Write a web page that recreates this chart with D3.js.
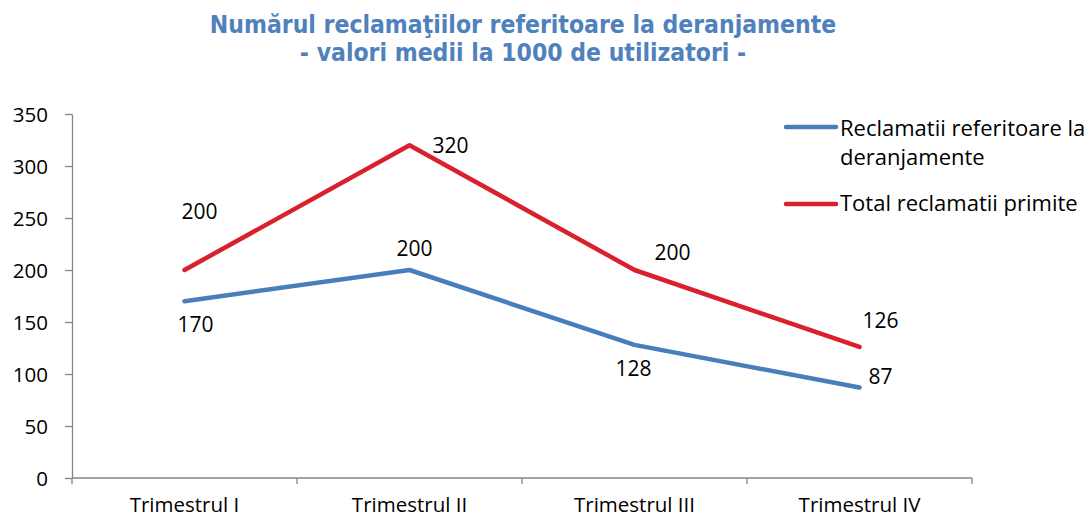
<!DOCTYPE html>
<meta charset="utf-8">
<style>
body { margin: 0; background: #fff; }
text { font-family: "Open Sans", sans-serif; fill: #000; }
.title { font-family: "DejaVu Sans Condensed", "DejaVu Sans", sans-serif; font-weight: bold; fill: #4f81bd; font-size: 24.5px; }
.axis path, .axis line { stroke: #868686; stroke-width: 1.3px; }
.axis text { font-size: 20.5px; fill: #000; font-family: "Open Sans", sans-serif; }
</style>
<svg width="1089" height="518"></svg>
<script src="https://d3js.org/d3.v7.min.js"></script>
<script>

var categories = ["Trimestrul I", "Trimestrul II", "Trimestrul III", "Trimestrul IV"];
var deranjamente = [170, 200, 128, 87];
var totalPrimite = [200, 320, 200, 126];
var yTicks = [0, 50, 100, 150, 200, 250, 300, 350];
var seriesNames = ["Reclamatii referitoare la deranjamente", "Total reclamatii primite"];
var titleLines = ["Numărul reclamaţiilor referitoare la deranjamente", "- valori medii la 1000 de utilizatori -"];

// label nudges, px (as placed by hand in the original)
var blueOffsets = [[11, 23], [5, -21], [-1, 24], [21, -11]];
var redOffsets = [[15, -58], [41, 0], [38, -17], [21, -26]];

var svg = d3.select("svg");

var x = d3.scaleBand().domain(categories).range([72, 972]);
var y = d3.scaleLinear().domain([0, 350]).range([478, 114]);

svg.selectAll(".title")
    .data(titleLines)
  .enter().append("text")
    .attr("class", "title")
    .attr("x", 523)
    .attr("y", function(d, i) { return 33 + i * 28; })
    .attr("text-anchor", "middle")
    .text(function(d) { return d; });

// Y axis
svg.append("g")
    .attr("class", "axis")
    .attr("transform", "translate(72,0)")
    .call(d3.axisLeft(y).tickValues(yTicks).tickSize(7).tickPadding(17).tickSizeOuter(0))
    .selectAll("text").attr("dy", "0.35em");

// X axis, ticks at category boundaries
var xg = svg.append("g")
    .attr("class", "axis")
    .attr("transform", "translate(0,478)");
xg.append("path").attr("d", "M72,0H972");
xg.selectAll(".tk")
    .data(categories.concat(["end"]))
  .enter().append("line")
    .attr("x1", function(d, i) { return i < categories.length ? x(d) : x.range()[1]; })
    .attr("x2", function(d, i) { return i < categories.length ? x(d) : x.range()[1]; })
    .attr("y1", 0).attr("y2", 6);
xg.selectAll(".lbl")
    .data(categories)
  .enter().append("text")
    .attr("x", function(d) { return x(d) + x.bandwidth() / 2; })
    .attr("y", 34)
    .attr("text-anchor", "middle")
    .text(function(d) { return d; });

var line = d3.line()
    .x(function(d, i) { return x(categories[i]) + x.bandwidth() / 2; })
    .y(function(d) { return y(d); });

var series = [
  {values: deranjamente, color: "#4a7ebb", offs: blueOffsets},
  {values: totalPrimite, color: "#d9202c", offs: redOffsets}
];

series.forEach(function(s) {
  svg.append("path")
      .attr("d", line(s.values))
      .attr("fill", "none")
      .attr("stroke", s.color)
      .attr("stroke-width", 4.5)
      .attr("stroke-linecap", "round")
      .attr("stroke-linejoin", "round");

  svg.selectAll(null)
      .data(s.values)
    .enter().append("text")
      .attr("x", function(d, i) { return x(categories[i]) + x.bandwidth() / 2 + s.offs[i][0]; })
      .attr("y", function(d, i) { return y(d) + s.offs[i][1]; })
      .attr("dy", "0.35em")
      .attr("text-anchor", "middle")
      .style("font-size", "21px")
      .text(function(d) { return d; });
});

// legend
var lg = svg.append("g").style("font-size", "22px");
lg.append("line").attr("x1", 786).attr("x2", 836).attr("y1", 127).attr("y2", 127)
    .attr("stroke", series[0].color).attr("stroke-width", 4.5).attr("stroke-linecap", "round");
lg.append("text").attr("x", 840).attr("y", 136).text("Reclamatii referitoare la");
lg.append("text").attr("x", 840).attr("y", 165).text("deranjamente");
lg.append("line").attr("x1", 786).attr("x2", 836).attr("y1", 204).attr("y2", 204)
    .attr("stroke", series[1].color).attr("stroke-width", 4.5).attr("stroke-linecap", "round");
lg.append("text").attr("x", 840).attr("y", 211).text(seriesNames[1]);

</script>
